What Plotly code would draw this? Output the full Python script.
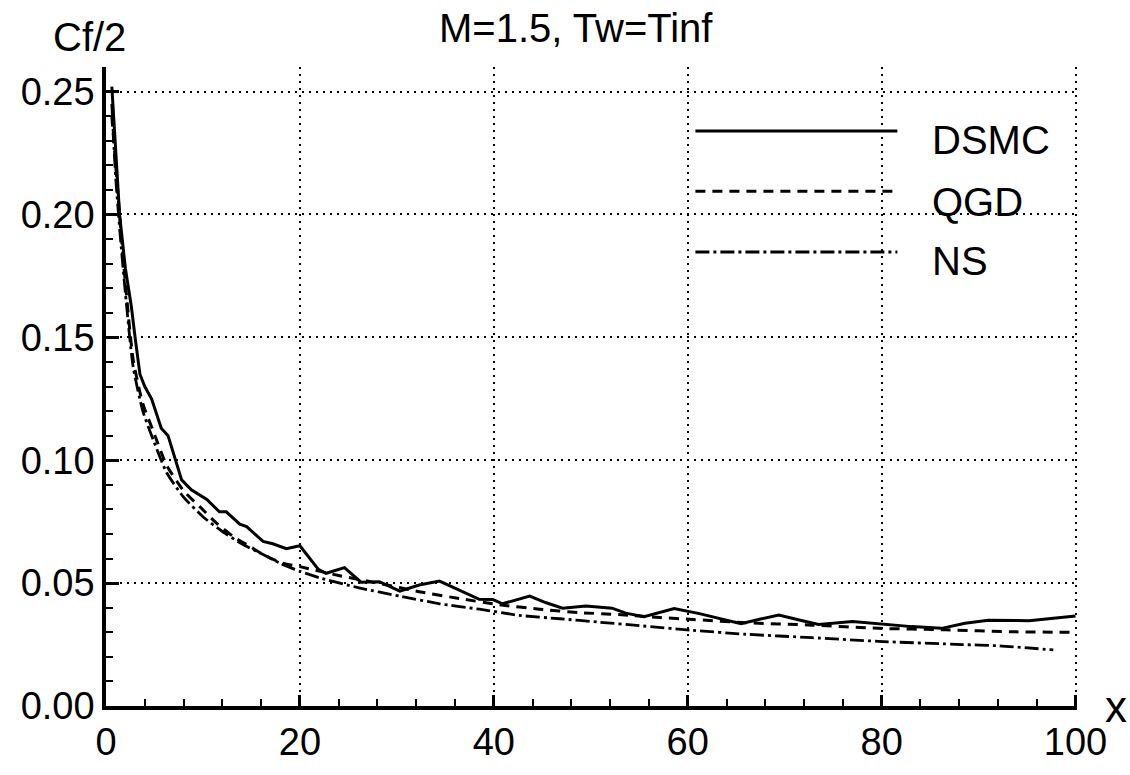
import plotly.graph_objects as go

# ---- data ----
dsmc_x = [0.6, 1.0, 1.4, 2.0, 2.6, 3.0, 3.5, 4.0, 4.7, 5.7, 6.4, 7.8, 8.8, 10.4,
          11.7, 12.4, 13.8, 14.5, 16.2, 17.2, 18.6, 20.0, 21.9, 22.7, 24.6, 26.3, 28.2,
          30.3, 32.3, 34.4, 36.5, 38.5, 39.9, 40.9, 43.7, 45.4, 47.1, 49.5, 52.2, 53.6,
          55.5, 58.6, 61.2, 63.2, 65.5, 67.4, 69.4, 71.5, 73.5, 77.0, 79.7, 83.1, 86.2,
          88.6, 91.0, 95.2, 100.0]
dsmc_y = [0.252, 0.225, 0.200, 0.178, 0.163, 0.150, 0.135, 0.130, 0.125, 0.113, 0.110,
          0.092, 0.088, 0.084, 0.079, 0.079, 0.074, 0.073, 0.067, 0.066, 0.064,
          0.0652, 0.0556, 0.054, 0.0563, 0.0504, 0.0506, 0.0467, 0.0492, 0.0508, 0.047,
          0.0434, 0.0433, 0.0416, 0.0447, 0.042, 0.0398, 0.0407, 0.0398, 0.0378, 0.0363,
          0.0397, 0.0376, 0.0357, 0.0335, 0.0353, 0.037, 0.035, 0.0332, 0.0344, 0.0335,
          0.0323, 0.0316, 0.0337, 0.0349, 0.0347, 0.0366]

qgd_x = [0.6, 1.0, 1.5, 2.0, 2.8, 3.8, 4.9, 6.25, 8.0, 9.7, 11.4, 13.1, 14.8, 16.5,
         18.3, 20.0, 24.1, 28.2, 32.3, 36.5, 40.6, 44.7, 48.8, 52.9, 57.1, 60.5, 66.0,
         72.8, 79.7, 86.6, 93.4, 100.0]
qgd_y = [0.240, 0.220, 0.195, 0.172, 0.141, 0.123, 0.1116, 0.098, 0.0876, 0.081,
         0.0744, 0.069, 0.065, 0.061, 0.058, 0.0567, 0.053, 0.0499, 0.0465, 0.0437,
         0.0412, 0.0394, 0.038, 0.0372, 0.036, 0.0352, 0.0339, 0.0329, 0.0316, 0.031,
         0.0302, 0.030]

ns_x = [0.6, 1.0, 1.5, 2.0, 2.8, 3.8, 4.9, 6.25, 8.0, 10.0, 12.0, 14.0, 16.0, 18.0,
        20.0, 22.0, 26.2, 30.3, 34.4, 38.5, 42.6, 46.8, 50.9, 55.0, 60.5, 66.0, 72.8,
        79.7, 88.3, 92.1, 97.7]
ns_y = [0.245, 0.215, 0.190, 0.168, 0.138, 0.120, 0.108, 0.095, 0.085, 0.077, 0.071,
        0.066, 0.062, 0.058, 0.0548, 0.0522, 0.048, 0.0447, 0.0416, 0.0394, 0.0369,
        0.0355, 0.0341, 0.0327, 0.0308, 0.0292, 0.0278, 0.0263, 0.025, 0.0245, 0.0228]

x_ticks = [0, 20, 40, 60, 80, 100]
y_ticks = [0.00, 0.05, 0.10, 0.15, 0.20, 0.25]
y_ticktext = ["0.00", "0.05", "0.10", "0.15", "0.20", "0.25"]
series_names = ["DSMC", "QGD", "NS"]
series_dash = ["solid", "10px,7px", "14px,4px,3px,4px"]

FONT = "Liberation Sans, Arial, Helvetica, sans-serif"

fig = go.Figure()
fig.add_trace(go.Scatter(x=dsmc_x, y=dsmc_y, mode="lines", name=series_names[0],
                         line=dict(color="black", width=3, dash=series_dash[0])))
fig.add_trace(go.Scatter(x=qgd_x, y=qgd_y, mode="lines", name=series_names[1],
                         line=dict(color="black", width=3, dash=series_dash[1],
                                   shape="spline", smoothing=0.6)))
fig.add_trace(go.Scatter(x=ns_x, y=ns_y, mode="lines", name=series_names[2],
                         line=dict(color="black", width=2.8, dash=series_dash[2],
                                   shape="spline", smoothing=0.6)))

fig.update_layout(
    width=1130, height=775,
    margin=dict(l=106, r=53, t=67, b=55),
    plot_bgcolor="white", paper_bgcolor="white",
    showlegend=False,
    font=dict(family=FONT, color="black"),
)

GRID_DASH = "2px,5px"
fig.update_xaxes(
    range=[0, 100.15], tickvals=x_ticks, showline=True, linewidth=3.5, linecolor="black",
    ticks="inside", ticklen=11, tickwidth=3, tickcolor="black",
    showgrid=True, gridcolor="black", griddash=GRID_DASH, gridwidth=2.2,
    zeroline=False, tickfont=dict(size=38, family=FONT, color="black"),
    minor=dict(dtick=4, ticks="inside", ticklen=7, tickwidth=2.2, tickcolor="black",
               showgrid=False),
)
fig.update_yaxes(
    range=[0, 0.26], tickvals=y_ticks, ticktext=y_ticktext, showline=True, linewidth=3.5,
    linecolor="black", ticks="inside", ticklen=13, tickwidth=3, tickcolor="black",
    showgrid=True, gridcolor="black", griddash=GRID_DASH, gridwidth=2.2,
    zeroline=False, tickfont=dict(size=38, family=FONT, color="black"),
    minor=dict(dtick=0.01, ticks="inside", ticklen=7, tickwidth=2.2, tickcolor="black",
               showgrid=False),
)

# legend (long sample lines like the reference)
legend_rows = [0.900, 0.8055, 0.7106]
text_rows = [0.885, 0.789, 0.697]
for name, dash, ly, ty in zip(series_names, series_dash, legend_rows, text_rows):
    fig.add_shape(type="line", xref="paper", yref="paper", x0=0.607, x1=0.815,
                  y0=ly, y1=ly, line=dict(color="black", width=3, dash=dash))
    fig.add_annotation(xref="paper", yref="paper", x=0.849, y=ty, text=name,
                       showarrow=False, xanchor="left", yanchor="middle",
                       font=dict(size=40, family=FONT, color="black"))

fig.add_annotation(xref="paper", yref="paper", x=0.484, y=1.061,
                   text="M=1.5, Tw=Tinf", showarrow=False, xanchor="center",
                   yanchor="middle", font=dict(size=40, family=FONT, color="black"))
fig.add_annotation(xref="paper", yref="paper", x=-0.0175, y=1.0475, text="Cf/2",
                   showarrow=False, xanchor="center", yanchor="middle",
                   font=dict(size=40, family=FONT, color="black"))
fig.add_annotation(xref="paper", yref="paper", x=1.040, y=0.0, text="x",
                   showarrow=False, xanchor="center", yanchor="middle",
                   font=dict(size=44, family=FONT, color="black"))

fig.write_html("out.html")
